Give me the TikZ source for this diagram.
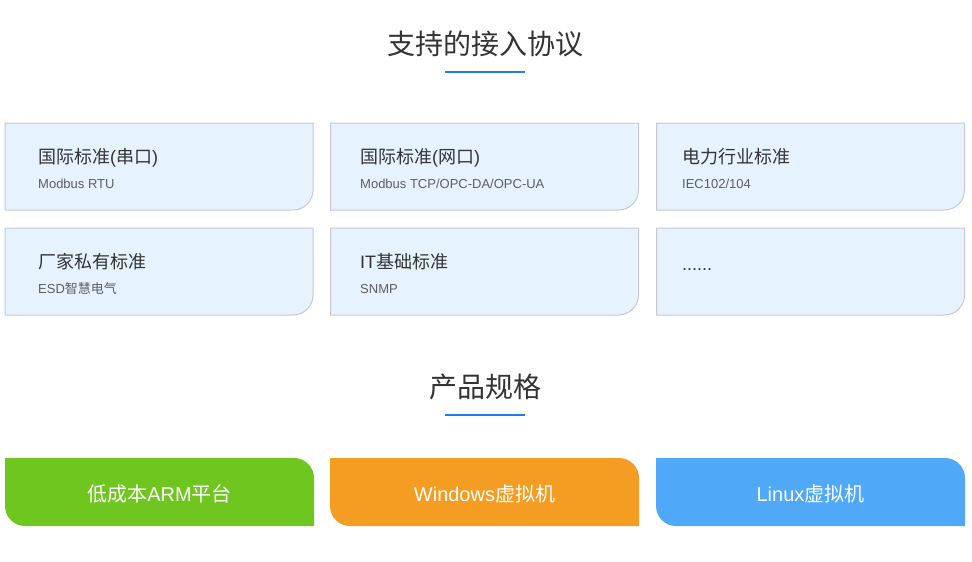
\documentclass[tikz,border=0pt]{standalone}
\usepackage{fontspec}
\setmainfont{Liberation Sans}
\newfontfamily\cjk{Noto Sans CJK SC}
\definecolor{titlec}{HTML}{333333}
\definecolor{subc}{HTML}{5E5E5E}
\definecolor{linec}{HTML}{1A7EF2}
\definecolor{cardfill}{HTML}{E6F3FE}
\definecolor{carddraw}{HTML}{C6CACF}
\definecolor{greenc}{HTML}{6EC61F}
\definecolor{orangec}{HTML}{F59C23}
\definecolor{bluec}{HTML}{4FA8F8}
\tikzset{
  sectitle/.style={anchor=base,inner sep=0pt,text=titlec,font=\fontsize{28}{30}\selectfont},
  secline/.style={draw=linec,line width=2pt},
  cardbox/.style={fill=cardfill,draw=carddraw,line width=1pt},
  cardtitle/.style={anchor=base west,inner sep=0pt,text=titlec,font=\fontsize{18}{20}\selectfont},
  cardsub/.style={anchor=base west,inner sep=0pt,text=subc,font=\fontsize{13}{15}\selectfont},
  btntext/.style={anchor=base,inner sep=0pt,text=white,font=\fontsize{20}{22}\selectfont},
}
% card: #1 name, #2 left x, #3 top y (positive, pixels down), #4 text x, #5 title, #6 subtitle
\newcommand\mkcard[6]{%
  \draw[cardbox] (#2,-#3) -- (#2+308,-#3) -- (#2+308,-#3-67)
     arc[start angle=0,end angle=-90,radius=20pt] -- (#2,-#3-87) -- cycle;
  \node[cardtitle] (#1t) at (#4,-#3-40.5) {#5};
  \node[cardsub] (#1s) at (#4,-#3-65) {#6};
}
\newcommand\mkbtn[4]{%
  \fill[#2] (#3,-458) -- (#3+289,-458) arc[start angle=90,end angle=0,radius=20pt]
     -- (#3+309,-526) -- (#3+20,-526) arc[start angle=270,end angle=180,radius=20pt] -- cycle;
  \node[btntext] (#1) at (#3+154.5,-501) {#4};
}
\begin{document}
\begin{tikzpicture}[x=1pt,y=1pt]
\useasboundingbox (0,0) rectangle (972,-562);
\fill[white] (0,0) rectangle (972,-562);
% section 1
\node[sectitle] (t1) at (485,-54) {\cjk 支持的接入协议};
\coordinate (u1a) at (445,-72);
\coordinate (u1b) at (525,-72);
\draw[secline] (u1a) -- (u1b);
% cards
\mkcard{c1}{5}{123}{38}{{\cjk 国际标准}({\cjk 串口})}{Modbus RTU}
\mkcard{c2}{330.5}{123}{360}{{\cjk 国际标准}({\cjk 网口})}{Modbus TCP/OPC-DA/OPC-UA}
\mkcard{c3}{656.5}{123}{682}{\cjk 电力行业标准}{IEC102/104}
\mkcard{c4}{5}{228}{38}{\cjk 厂家私有标准}{ESD{\cjk 智慧电气}}
\mkcard{c5}{330.5}{228}{360}{IT{\cjk 基础标准}}{SNMP}
\draw[cardbox] (656.5,-228) -- (964.5,-228) -- (964.5,-295)
   arc[start angle=0,end angle=-90,radius=20pt] -- (656.5,-315) -- cycle;
\node[cardtitle] (c6t) at (682,-270) {......};
% section 2
\node[sectitle] (t2) at (485,-397) {\cjk 产品规格};
\coordinate (u2a) at (445,-415);
\coordinate (u2b) at (525,-415);
\draw[secline] (u2a) -- (u2b);
% buttons
\mkbtn{b1}{greenc}{5}{{\cjk 低成本}ARM{\cjk 平台}}
\mkbtn{b2}{orangec}{330}{Windows{\cjk 虚拟机}}
\mkbtn{b3}{bluec}{656}{Linux{\cjk 虚拟机}}
\end{tikzpicture}
\end{document}
